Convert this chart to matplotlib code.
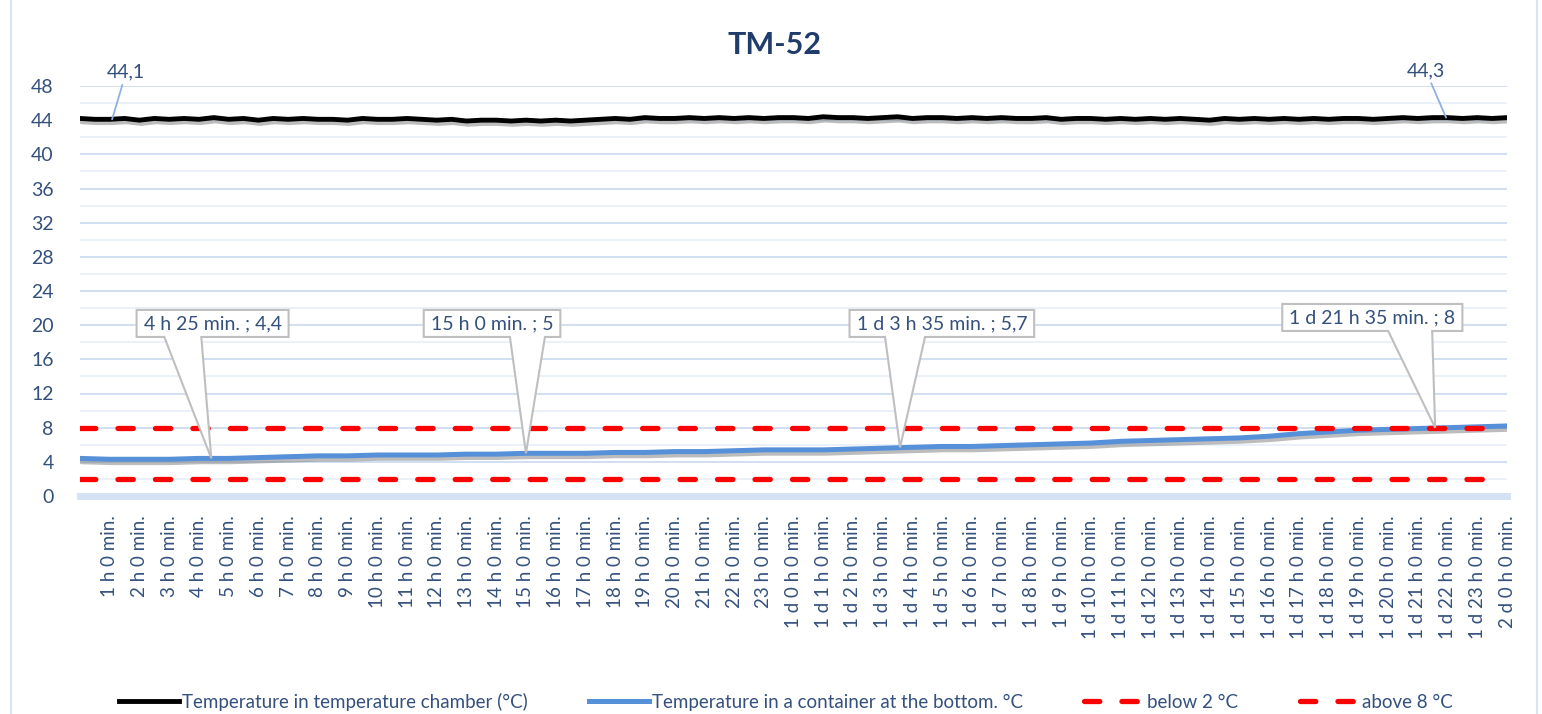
import matplotlib
matplotlib.use("Agg")
import matplotlib.pyplot as plt
import matplotlib.patheffects as pe
from matplotlib.patches import Polygon
from matplotlib.lines import Line2D
from matplotlib.ticker import MultipleLocator
import numpy as np

# ---------------- data ----------------
chart_title = "TM-52"

# chamber temperature, sampled every 30 minutes (0 h .. 48 h)
chamber_temp = [
    44.2, 44.1, 44.1, 44.2, 44.0, 44.2, 44.1, 44.2, 44.1, 44.3, 44.1, 44.2,
    44.0, 44.2, 44.1, 44.2, 44.1, 44.1, 44.0, 44.2, 44.1, 44.1, 44.2, 44.1,
    44.0, 44.1, 43.9, 44.0, 44.0, 43.9, 44.0, 43.9, 44.0, 43.9, 44.0, 44.1,
    44.2, 44.1, 44.3, 44.2, 44.2, 44.3, 44.2, 44.3, 44.2, 44.3, 44.2, 44.3,
    44.3, 44.2, 44.4, 44.3, 44.3, 44.2, 44.3, 44.4, 44.2, 44.3, 44.3, 44.2,
    44.3, 44.2, 44.3, 44.2, 44.2, 44.3, 44.1, 44.2, 44.2, 44.1, 44.2, 44.1,
    44.2, 44.1, 44.2, 44.1, 44.0, 44.2, 44.1, 44.2, 44.1, 44.2, 44.1, 44.2,
    44.1, 44.2, 44.2, 44.1, 44.2, 44.3, 44.2, 44.3, 44.3, 44.2, 44.3, 44.2,
    44.3,
]
chamber_hours = np.arange(len(chamber_temp)) * 0.5

# container (bottom) temperature, sampled every hour (0 h .. 48 h)
container_temp = [
    4.4, 4.3, 4.3, 4.3, 4.4, 4.4, 4.5, 4.6, 4.7, 4.7,
    4.8, 4.8, 4.8, 4.9, 4.9, 5.0, 5.0, 5.0, 5.1, 5.1,
    5.2, 5.2, 5.3, 5.4, 5.4, 5.4, 5.5, 5.6, 5.7, 5.8,
    5.8, 5.9, 6.0, 6.1, 6.2, 6.4, 6.5, 6.6, 6.7, 6.8,
    7.0, 7.3, 7.5, 7.7, 7.8, 7.9, 8.0, 8.1, 8.2,
]
container_hours = np.arange(len(container_temp)) * 1.0

limit_hours = [0.0, 47.4]
below_limit = [2, 2]
above_limit = [8, 8]

series_names = [
    "Temperature in temperature chamber (°C)",
    "Temperature in a container at the bottom. °C",
    "below 2 °C",
    "above 8 °C",
]

x_tick_hours = list(range(1, 49))
x_tick_labels = [
    "1 h 0 min.", "2 h 0 min.", "3 h 0 min.", "4 h 0 min.", "5 h 0 min.", "6 h 0 min.",
    "7 h 0 min.", "8 h 0 min.", "9 h 0 min.", "10 h 0 min.", "11 h 0 min.", "12 h 0 min.",
    "13 h 0 min.", "14 h 0 min.", "15 h 0 min.", "16 h 0 min.", "17 h 0 min.", "18 h 0 min.",
    "19 h 0 min.", "20 h 0 min.", "21 h 0 min.", "22 h 0 min.", "23 h 0 min.",
    "1 d 0 h 0 min.", "1 d 1 h 0 min.", "1 d 2 h 0 min.", "1 d 3 h 0 min.", "1 d 4 h 0 min.",
    "1 d 5 h 0 min.", "1 d 6 h 0 min.", "1 d 7 h 0 min.", "1 d 8 h 0 min.", "1 d 9 h 0 min.",
    "1 d 10 h 0 min.", "1 d 11 h 0 min.", "1 d 12 h 0 min.", "1 d 13 h 0 min.", "1 d 14 h 0 min.",
    "1 d 15 h 0 min.", "1 d 16 h 0 min.", "1 d 17 h 0 min.", "1 d 18 h 0 min.", "1 d 19 h 0 min.",
    "1 d 20 h 0 min.", "1 d 21 h 0 min.", "1 d 22 h 0 min.", "1 d 23 h 0 min.", "2 d 0 h 0 min.",
]
y_ticks = list(range(0, 49, 4))

# callouts on the container series: (hour, value, label)
callout_hours = [4 + 25 / 60, 15.0, 27 + 35 / 60, 45 + 35 / 60]
callout_values = [4.4, 5.0, 5.7, 8.0]
callout_labels = ["4 h 25 min. ; 4,4", "15 h 0 min. ; 5", "1 d 3 h 35 min. ; 5,7", "1 d 21 h 35 min. ; 8"]

# data labels on chamber series
chamber_label_hours = [1.08, 45.95]
chamber_label_values = [44.1, 44.3]
chamber_label_texts = ["44,1", "44,3"]

# ---------------- style / layout ----------------
plt.rcParams["font.family"] = ["Lato", "DejaVu Sans"]
TXT = "#34507d"
TITLE_C = "#1f3c6a"
GRID_MAJ = "#cddcf0"
GRID_MIN = "#e9f0f9"
BLUE = "#5690d8"
RED = "#ff0000"

W, H = 1542, 714
fig = plt.figure(figsize=(W / 100, H / 100), dpi=100)
ax = fig.add_axes([80 / W, 1 - 496 / H, 1427 / W, 410 / H])
ax.set_xlim(0, 48)
ax.set_ylim(0, 48)

shadow = [pe.SimpleLineShadow(offset=(1.2, -2.4), shadow_color="#7a7a7a", alpha=0.5), pe.Normal()]

black_style = dict(color="black", lw=3.5)
blue_style = dict(color=BLUE, lw=3.6)
red_style = dict(color=RED, lw=3.8, dashes=(2.9, 4.2), dash_capstyle="round")

ax.plot(chamber_hours, chamber_temp, solid_joinstyle="round", solid_capstyle="round",
        path_effects=shadow, zorder=4, **black_style)
ax.plot(container_hours, container_temp, solid_joinstyle="round", solid_capstyle="round",
        path_effects=shadow, zorder=4, **blue_style)
ax.plot(limit_hours, below_limit, zorder=5, **red_style)
ax.plot(limit_hours, above_limit, zorder=5, **red_style)

# axes styling
for s in ["top", "right", "left"]:
    ax.spines[s].set_visible(False)
ax.spines["bottom"].set_color("#d5e2f3")
ax.spines["bottom"].set_linewidth(5)
ax.spines["bottom"].set_zorder(1)

ax.set_yticks(y_ticks)
ax.yaxis.set_minor_locator(MultipleLocator(2))
ax.grid(which="major", axis="y", color=GRID_MAJ, lw=1.3, zorder=0)
ax.grid(which="minor", axis="y", color=GRID_MIN, lw=1.3, zorder=0)
ax.set_axisbelow(True)
ax.tick_params(axis="y", which="both", length=0, pad=19, labelsize=14, labelcolor=TXT)

ax.set_xticks(x_tick_hours)
ax.set_xticklabels(x_tick_labels, rotation=90, va="top", ha="center")
ax.xaxis.set_minor_locator(MultipleLocator(0.25))
ax.tick_params(axis="x", which="major", length=0, pad=14, labelsize=13.5, labelcolor=TXT)
ax.tick_params(axis="x", which="minor", length=4, width=1.2, color="#f4f8fd", direction="inout")

# title
fig.text(774.5 / W, 1 - 45 / H, chart_title, ha="center", va="center",
         fontsize=22, fontweight="bold", color=TITLE_C)

# chamber data labels
chamber_text_pos = [(1.55, 49.6), (45.27, 49.8)]
for (hx, hv, t, (px, py)) in zip(chamber_label_hours, chamber_label_values, chamber_label_texts, chamber_text_pos):
    ax.annotate(t, xy=(hx, hv), xytext=(px, py), textcoords="data", ha="center", va="center",
                fontsize=14, color=TXT, annotation_clip=False, zorder=8,
                arrowprops=dict(arrowstyle="-", color="#8fb0e0", lw=1.3, shrinkA=1, shrinkB=0))

# callouts (box centre in data coords, wedge base offsets in pixels from the tip)
callout_box = [(4.46, 20.2), (13.86, 20.2), (28.99, 20.2), (43.47, 20.9)]
callout_base = [(-47, -10), (-16, 19), (-15, 25), (-47, -3)]
texts = []
for (bx, by), lab in zip(callout_box, callout_labels):
    texts.append(ax.text(bx, by, lab, ha="center", va="center", fontsize=14,
                         color=TXT, zorder=9, clip_on=False))
fig.canvas.draw()
renderer = fig.canvas.get_renderer()
inv = ax.transData.inverted()
for t, hx, hv, (bl, br) in zip(texts, callout_hours, callout_values, callout_base):
    ext = t.get_window_extent(renderer)
    padx, pady = 7, 5
    L, R = ext.x0 - padx, ext.x1 + padx
    B, T = ext.y0 - pady, ext.y1 + pady
    tipx, tipy = ax.transData.transform((hx, hv))
    verts_px = [(L, T), (R, T), (R, B), (tipx + br, B), (tipx, tipy), (tipx + bl, B), (L, B)]
    verts = inv.transform(np.array(verts_px))
    ax.add_patch(Polygon(verts, closed=True, facecolor="white", edgecolor="#bfbfbf",
                         lw=1.5, zorder=8, clip_on=False, joinstyle="miter"))

# legend (plain proxy handles, no shadow)
handles = [Line2D([], [], **black_style), Line2D([], [], **blue_style),
           Line2D([], [], **red_style), Line2D([], [], **red_style)]
fig.legend(handles, series_names, loc="center", bbox_to_anchor=(786 / W, 1 - 702 / H),
           ncol=4, frameon=False, fontsize=13.5, labelcolor=TXT, handlelength=3.2,
           handletextpad=0.12, columnspacing=3.3, borderaxespad=0)

# chart frame (light blue side borders)
for xf in (10.5 / W, 1537 / W):
    fig.add_artist(Line2D([xf, xf], [0, 1], transform=fig.transFigure, color="#d9e4f2", lw=1.6))

fig.savefig("out.png", dpi=100, facecolor="white")
